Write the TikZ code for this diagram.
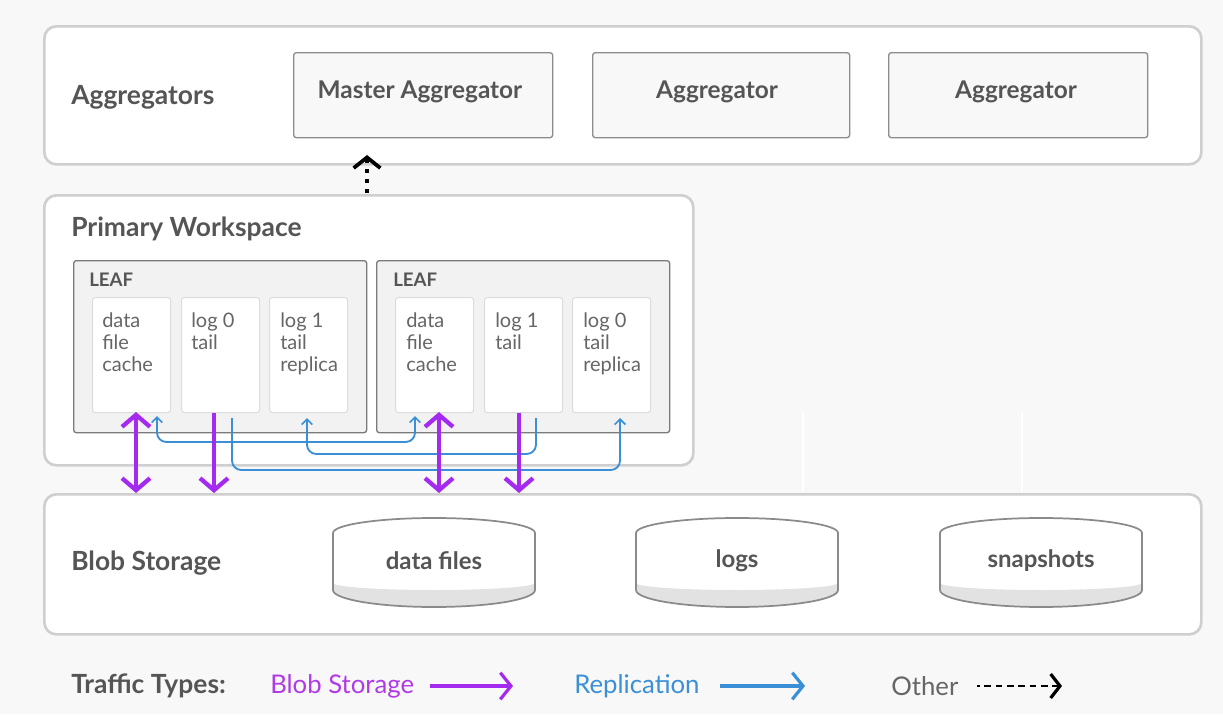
\documentclass[tikz,border=0pt]{standalone}
\usepackage{fontspec}
\setmainfont{Lato}
\usetikzlibrary{arrows.meta}
\definecolor{bgc}{HTML}{F8F8F8}
\definecolor{outerb}{HTML}{CFCFCF}
\definecolor{aggb}{HTML}{8C8C8C}
\definecolor{aggf}{HTML}{F8F8F8}
\definecolor{leafb}{HTML}{7A7A7A}
\definecolor{leaff}{HTML}{F2F2F2}
\definecolor{innerb}{HTML}{DCDCDC}
\definecolor{headc}{HTML}{555555}
\definecolor{txtc}{HTML}{666666}
\definecolor{purp}{HTML}{A52AF0}
\definecolor{purpt}{HTML}{B03BE6}
\definecolor{bluec}{HTML}{3A8FD6}
\definecolor{cylb}{HTML}{8A8A8A}
\definecolor{cylg}{HTML}{E2E2E2}
\tikzset{
  outerbox/.style={draw=outerb, line width=2pt, fill=white, rounded corners=9pt},
  aggbox/.style={draw=aggb, line width=1pt, fill=aggf, rounded corners=2pt, inner sep=0pt},
  aggtxt/.style={font=\fontsize{18.3}{22}\selectfont\bfseries, text=headc},
  leafbox/.style={draw=leafb, line width=1pt, fill=leaff, rounded corners=2pt},
  innerbox/.style={draw=innerb, line width=0.8pt, fill=white, rounded corners=2pt},
  heading/.style={font=\fontsize{19.8}{24}\selectfont\bfseries, text=headc, anchor=west, inner sep=0pt},
  leaflbl/.style={font=\fontsize{14}{17}\selectfont\bfseries, text=headc, anchor=west, inner sep=0pt},
  innertxt/.style={font=\fontsize{15}{16.5}\selectfont, text=txtc, anchor=north west, align=left, inner sep=0pt},
  cyltxt/.style={font=\fontsize{18}{22}\selectfont\bfseries, text=headc},
  blobarrow/.style={draw=purp, line width=3.2pt, -{Straight Barb[length=9pt,width=21pt,line width=3.2pt]}},
  blobdbl/.style={draw=purp, line width=3.2pt, {Straight Barb[length=9pt,width=21pt,line width=3.2pt]}-{Straight Barb[length=9pt,width=21pt,line width=3.2pt]}},
  repl/.style={draw=bluec, line width=1.4pt, rounded corners=7pt, -{Straight Barb[length=4pt,width=8pt,line width=1.2pt]}},
  repldbl/.style={draw=bluec, line width=1.4pt, rounded corners=7pt, {Straight Barb[length=4pt,width=8pt,line width=1.2pt]}-{Straight Barb[length=4pt,width=8pt,line width=1.2pt]}},
  otherarrow/.style={draw=black, line width=3.2pt, dash pattern=on 3pt off 4.5pt, -{Straight Barb[length=8pt,width=20pt,line width=2.8pt]}},
  legtxt/.style={font=\fontsize{19.3}{23}\selectfont, anchor=west, inner sep=0pt}
}
\begin{document}
\begin{tikzpicture}[x=0.75pt,y=-0.75pt]
\useasboundingbox (0,0) rectangle (1223,714);
\fill[bgc] (0,0) rectangle (1223,714);

% outer containers
\node[outerbox, minimum width=1157*0.75pt, minimum height=138*0.75pt, anchor=north west] (aggs) at (43,25) {};
\node[outerbox, minimum width=649*0.75pt, minimum height=270*0.75pt, anchor=north west] (pw) at (43,194) {};
\node[outerbox, minimum width=1157*0.75pt, minimum height=140*0.75pt, anchor=north west] (blob) at (43,493) {};

% faint white marks
\draw[white, line width=2pt] (803,413) -- (803,492);
\draw[white, line width=2pt] (1022,413) -- (1022,492);

% headings
\node[heading] (aggl) at (71,97) {Aggregators};
\node[heading] (pwl) at (71,229) {Primary Workspace};
\node[heading] (blobl) at (71,563) {Blob Storage};

% aggregators
\node[aggbox, minimum width=259*0.75pt, minimum height=85*0.75pt, anchor=north west] (ma) at (293,52) {};
\node[aggtxt] (mat) at (420,92) {Master Aggregator};
\node[aggbox, minimum width=257*0.75pt, minimum height=85*0.75pt, anchor=north west] (ag1) at (592,52) {};
\node[aggtxt] (ag1t) at (717,92) {Aggregator};
\node[aggbox, minimum width=259*0.75pt, minimum height=85*0.75pt, anchor=north west] (ag2) at (888,52) {};
\node[aggtxt] (ag2t) at (1016,92) {Aggregator};

% leaves
\node[leafbox, minimum width=293*0.75pt, minimum height=172*0.75pt, anchor=north west] (leaf1) at (73,260) {};
\node[leafbox, minimum width=293*0.75pt, minimum height=172*0.75pt, anchor=north west] (leaf2) at (376,260) {};
\node[leaflbl] (l1l) at (89,280) {LEAF};
\node[leaflbl] (l2l) at (393,280) {LEAF};

\foreach \nm/\xx in {a1/92,b1/181,c1/269,a2/395,b2/484,c2/572}{
  \node[innerbox, minimum width=78*0.75pt, minimum height=115*0.75pt, anchor=north west] (\nm) at (\xx,297) {};
}
\node[innertxt] (t1) at (102,312) {data\\file\\cache};
\node[innertxt] (t2) at (191,312) {log 0\\tail};
\node[innertxt] (t3) at (280,312) {log 1\\tail\\replica};
\node[innertxt] (t4) at (406,312) {data\\file\\cache};
\node[innertxt] (t5) at (495,312) {log 1\\tail};
\node[innertxt] (t6) at (583,312) {log 0\\tail\\replica};

% replication
\coordinate (r1s) at (232,418);
\coordinate (r1e) at (620,418);
\draw[repl] (r1s) -- (232,470) -- (620,470) -- (r1e);
\coordinate (r2s) at (536,418);
\coordinate (r2e) at (307,418);
\draw[repl] (r2s) -- (536,454) -- (307,454) -- (r2e);
\coordinate (r3a) at (157,416);
\coordinate (r3b) at (415,416);
\draw[repldbl] (r3a) -- (157,442) -- (415,442) -- (r3b);

% blob storage traffic
\coordinate (p1t) at (136,412);
\coordinate (p1b) at (136,493);
\draw[blobdbl] (p1t) -- (p1b);
\coordinate (p2t) at (214,413);
\coordinate (p2b) at (214,493);
\draw[blobarrow] (p2t) -- (p2b);
\coordinate (p3t) at (439,412);
\coordinate (p3b) at (439,493);
\draw[blobdbl] (p3t) -- (p3b);
\coordinate (p4t) at (519,413);
\coordinate (p4b) at (519,493);
\draw[blobarrow] (p4t) -- (p4b);

% other traffic
\coordinate (o1) at (367,193);
\coordinate (o2) at (367,155);
\draw[otherarrow] (o1) -- (o2);

% cylinders
\foreach \cx/\nm/\lbl in {434/cyl1/data files, 737/cyl2/logs, 1041/cyl3/snapshots}{
  \fill[cylg] (\cx-101,583) arc[start angle=180,end angle=0,x radius=101,y radius=7]
     -- (\cx+101,590) arc[start angle=0,end angle=180,x radius=101,y radius=17] -- cycle;
  \draw[cylb, line width=1.3pt]
     (\cx-101,533) arc[start angle=180,end angle=360,x radius=101,y radius=15]
     -- (\cx+101,590) arc[start angle=0,end angle=180,x radius=101,y radius=17] -- cycle;
  \node[cyltxt] (\nm) at (\cx,561) {\lbl};
}

% legend
\node[heading] (lgt) at (71,686) {Traffic Types:};
\node[legtxt, text=purpt] (lg1) at (270,686) {Blob Storage};
\coordinate (lg1a) at (430,686);
\coordinate (lg1b) at (513,686);
\draw[draw=purp, line width=2.4pt, -{Straight Barb[length=8pt,width=20pt,line width=2.4pt]}] (lg1a) -- (lg1b);
\node[legtxt, text=bluec] (lg2) at (574,686) {Replication};
\coordinate (lg2a) at (720,686);
\coordinate (lg2b) at (805,686);
\draw[draw=bluec, line width=2.4pt, -{Straight Barb[length=8pt,width=20pt,line width=2.4pt]}] (lg2a) -- (lg2b);
\node[legtxt, text=txtc] (lg3) at (891,686) {Other};
\coordinate (lg3a) at (977,686);
\coordinate (lg3b) at (1062,686);
\draw[draw=black, line width=2pt, dash pattern=on 5pt off 3.5pt, dash phase=3pt, -{Straight Barb[length=7pt,width=18pt,line width=2.4pt]}] (lg3a) -- (lg3b);
\end{tikzpicture}
\end{document}
